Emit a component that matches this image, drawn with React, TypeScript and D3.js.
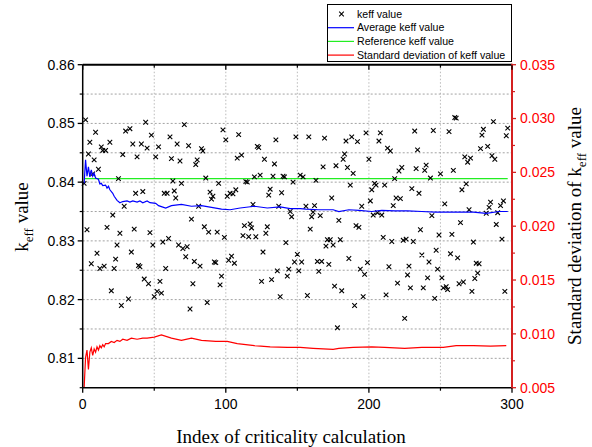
import React from 'react';
import * as d3 from 'd3';

// scatter: index of criticality calculation and keff
const calcIndex = [
  1, 2, 3, 4, 5, 6, 7, 8, 9, 10, 11, 12, 13, 14, 15, 16, 17, 19, 20, 21, 22, 23, 24, 25, 26, 27, 28, 29, 30,
  32, 33, 34, 35, 36, 37, 38, 39, 40, 41, 42, 43, 44, 45, 46, 47, 48, 49, 50, 51, 52, 53, 54, 55, 56, 57,
  58, 59, 60, 61, 62, 63, 64, 65, 66, 67, 68, 69, 70, 71, 72, 73, 74, 75, 76, 77, 78, 79, 80, 81, 82, 83,
  84, 85, 86, 87, 88, 89, 90, 91, 92, 93, 94, 95, 96, 97, 98, 99, 100, 101, 102, 103, 104, 105, 106, 107,
  108, 109, 111, 112, 113, 114, 115, 116, 117, 118, 119, 120, 121, 122, 123, 124, 125, 126, 127, 128, 129,
  130, 131, 132, 133, 134, 135, 136, 137, 138, 139, 140, 141, 142, 143, 144, 145, 146, 147, 148, 149, 150,
  151, 152, 153, 154, 156, 157, 158, 159, 160, 161, 162, 163, 164, 165, 166, 167, 168, 169, 170, 171, 172,
  173, 174, 175, 176, 177, 178, 179, 180, 181, 182, 183, 184, 185, 186, 187, 188, 189, 190, 191, 192, 193,
  194, 195, 196, 197, 198, 199, 200, 201, 202, 203, 204, 205, 206, 207, 208, 209, 210, 211, 212, 213, 214,
  215, 216, 217, 218, 219, 220, 221, 222, 223, 224, 225, 226, 227, 228, 229, 230, 231, 232, 233, 234, 235,
  236, 237, 238, 239, 240, 241, 242, 243, 244, 245, 246, 247, 248, 249, 250, 251, 252, 253, 254, 255, 256,
  257, 258, 259, 260, 261, 262, 263, 264, 265, 266, 267, 268, 269, 270, 271, 272, 273, 274, 275, 276, 277,
  278, 279, 280, 282, 283, 284, 285, 286, 287, 288, 289, 290, 292, 293, 294, 295, 296, 297,
];
const keffValue = [
  0.8398, 0.8506, 0.8319, 0.8448, 0.8468, 0.8261, 0.8414, 0.8438, 0.8485, 0.8279, 0.8422, 0.8253, 0.846,
  0.8454, 0.8257, 0.8454, 0.8323, 0.8468, 0.8215, 0.8344, 0.8253, 0.8269, 0.8293, 0.8406, 0.8313, 0.819,
  0.8447, 0.8359, 0.8487, 0.8201, 0.8491, 0.8281, 0.8465, 0.832, 0.8381, 0.8443, 0.8258, 0.8256, 0.8465,
  0.8384, 0.8235, 0.8502, 0.8458, 0.8227, 0.8314, 0.848, 0.8293, 0.8205, 0.8443, 0.8214, 0.846, 0.8231,
  0.8211, 0.8298, 0.8381, 0.8253, 0.8381, 0.8304, 0.8477, 0.844, 0.8402, 0.8385, 0.8373, 0.8465, 0.8293,
  0.8436, 0.8398, 0.8287, 0.8498, 0.8273, 0.829, 0.8462, 0.8184, 0.8337, 0.8227, 0.8265, 0.843, 0.8438,
  0.8359, 0.8257, 0.8457, 0.8453, 0.8324, 0.8407, 0.8195, 0.8315, 0.8383, 0.8371, 0.8376, 0.8264, 0.8263,
  0.8315, 0.8398, 0.8225, 0.824, 0.8489, 0.8306, 0.8472, 0.8376, 0.8267, 0.8381, 0.8274, 0.838, 0.8262,
  0.8387, 0.8441, 0.8481, 0.8446, 0.8309, 0.8326, 0.8401, 0.84, 0.8307, 0.8329, 0.8322, 0.8362, 0.8409,
  0.8307, 0.8461, 0.8459, 0.8412, 0.8231, 0.8281, 0.8439, 0.8313, 0.8324, 0.8378, 0.8388, 0.8234, 0.841,
  0.8431, 0.8472, 0.8249, 0.8359, 0.8205, 0.8382, 0.841, 0.8409, 0.8297, 0.824, 0.8252, 0.835, 0.8341,
  0.84, 0.8264, 0.8477, 0.8277, 0.8249, 0.8412, 0.8264, 0.8409, 0.8359, 0.8207, 0.8477, 0.832, 0.8341,
  0.8349, 0.836, 0.8403, 0.8265, 0.8248, 0.8343, 0.8265, 0.8426, 0.8475, 0.8291, 0.8302, 0.826, 0.8302,
  0.8373, 0.8293, 0.8223, 0.8428, 0.8152, 0.8335, 0.8302, 0.8215, 0.8439, 0.8448, 0.847, 0.8425, 0.827,
  0.8395, 0.8477, 0.8415, 0.819, 0.8326, 0.8469, 0.8323, 0.8252, 0.8359, 0.8205, 0.8243, 0.8484, 0.8263,
  0.8439, 0.8368, 0.8387, 0.8344, 0.8398, 0.8395, 0.8348, 0.847, 0.8484, 0.8344, 0.8306, 0.8395, 0.8208,
  0.8458, 0.8256, 0.8453, 0.8299, 0.836, 0.8406, 0.8373, 0.8228, 0.8419, 0.8372, 0.8425, 0.8301, 0.8168,
  0.8303, 0.8242, 0.8257, 0.822, 0.8389, 0.8299, 0.8487, 0.8423, 0.8455, 0.8381, 0.8319, 0.8276, 0.822,
  0.842, 0.8429, 0.8237, 0.8264, 0.8407, 0.8343, 0.8488, 0.8202, 0.8284, 0.8252, 0.831, 0.8414, 0.8237,
  0.822, 0.8363, 0.8222, 0.8217, 0.8486, 0.8278, 0.8311, 0.842, 0.851, 0.8509, 0.8271, 0.8227, 0.8331,
  0.8387, 0.823, 0.8443, 0.8397, 0.8434, 0.8353, 0.8441, 0.8214, 0.8298, 0.8236, 0.8262, 0.8245, 0.8261,
  0.8457, 0.848, 0.849, 0.8347, 0.8461, 0.8357, 0.8366, 0.8445, 0.8503, 0.8439, 0.8328, 0.8348, 0.836,
  0.8303, 0.8368, 0.8214, 0.8479, 0.8492,
];

// running average of keff
const avgIndex = [
  1, 2, 3, 4, 5, 6, 7, 8, 9, 11, 12, 13, 14, 16, 17, 18, 19, 21, 22, 24, 26, 28, 31, 33, 35, 38, 40, 42, 45,
  47, 51, 53, 58, 62, 69, 76, 83, 90, 97, 103, 110, 120, 129, 138, 145, 152, 156, 165, 175, 179, 186, 193,
  202, 209, 218, 227, 237, 246, 252, 261, 273, 282, 291, 297,
];
const avgValue = [
  0.8398, 0.8438, 0.841, 0.8426, 0.8409, 0.8421, 0.841, 0.8415, 0.8407, 0.8405, 0.8397, 0.8398, 0.8394,
  0.8395, 0.839, 0.8393, 0.8387, 0.8381, 0.8376, 0.8369, 0.8365, 0.8367, 0.8368, 0.8366, 0.8368, 0.8366,
  0.8368, 0.8365, 0.8368, 0.8365, 0.8364, 0.836, 0.8356, 0.836, 0.8362, 0.8359, 0.836, 0.8357, 0.8354,
  0.8353, 0.8356, 0.8359, 0.8356, 0.8358, 0.8355, 0.8355, 0.8354, 0.8353, 0.8353, 0.835, 0.8353, 0.8352,
  0.835, 0.8352, 0.8351, 0.8351, 0.835, 0.8349, 0.8349, 0.8349, 0.8349, 0.8347, 0.835, 0.835,
];

// reference keff
const refIndex = [1, 297];
const refValue = [0.8406, 0.8406];

// standard deviation (right axis)
const stdIndex = [
  1, 2, 3, 4, 5, 6, 7, 8, 9, 10, 11, 12, 13, 14, 15, 16, 18, 20, 22, 24, 26, 28, 31, 34, 38, 42, 45, 50, 55,
  62, 69, 76, 83, 93, 101, 108, 120, 131, 143, 152, 161, 175, 179, 189, 202, 211, 225, 237, 252, 261, 273,
  285, 296,
];
const stdValue = [
  0.005, 0.0078, 0.0085, 0.0067, 0.0083, 0.0087, 0.008, 0.0086, 0.0083, 0.0088, 0.0085, 0.0089, 0.0087,
  0.009, 0.0088, 0.0091, 0.0091, 0.0093, 0.0092, 0.0094, 0.0093, 0.0095, 0.0094, 0.0096, 0.0095, 0.0096,
  0.0096, 0.0097, 0.0099, 0.0096, 0.0094, 0.0096, 0.0094, 0.0093, 0.0093, 0.0091, 0.0089, 0.0088, 0.00875,
  0.00875, 0.00866, 0.00856, 0.00866, 0.00875, 0.0088, 0.00875, 0.00866, 0.00875, 0.00875, 0.0089, 0.0089,
  0.00887, 0.0089,
];

const xMajor = [0, 100, 200, 300];
const xMinor = [50, 150, 250];
const yMajor = [0.81, 0.82, 0.83, 0.84, 0.85, 0.86];
const yMinor = [0.805, 0.815, 0.825, 0.835, 0.845, 0.855];
const y2Major = [0.005, 0.01, 0.015, 0.02, 0.025, 0.03, 0.035];
const y2Minor = [0.0075, 0.0125, 0.0175, 0.0225, 0.0275, 0.0325];
const xGrid = [50, 100, 150, 200, 250];
const yGrid = [0.81, 0.815, 0.82, 0.825, 0.83, 0.835, 0.84, 0.845, 0.85, 0.855];

const legendItems = ['keff value', 'Average keff value', 'Reference keff value', 'Standard deviation of keff value'];

const W = 592;
const H = 447;
const L = 82.7, R = 512, T = 64.7, B = 387.7;
const sans = 'Arial, "Liberation Sans", sans-serif';
const serif = '"Times New Roman", "Liberation Serif", serif';
const RED = '#ff0000';
const BLUE = '#0000ff';
const GREEN = '#22ee22';

export default function App() {
  const x = d3.scaleLinear().domain([0, 300]).range([L, R]);
  const y = d3.scaleLinear().domain([0.805, 0.86]).range([B, T]);
  const y2 = d3.scaleLinear().domain([0.005, 0.035]).range([B, T]);
  const f2 = d3.format('.2f');
  const f3 = d3.format('.3f');

  const line = (xs: number[], ys: number[], sy: d3.ScaleLinear<number, number>) =>
    d3.line<number>().x(i => x(xs[i])).y(i => sy(ys[i]))(d3.range(xs.length)) || '';

  const cross = 'M-2.3,-2.3L2.3,2.3M-2.3,2.3L2.3,-2.3';

  return (
    <svg width={W} height={H} style={{ position: 'absolute', left: 0, top: 0, background: '#fff' }}>
      {/* grid */}
      {yGrid.map(v => (
        <line key={'gy' + v} x1={L} x2={R} y1={y(v)} y2={y(v)} stroke="#999" strokeWidth={0.9} strokeDasharray="2,2" />
      ))}
      {xGrid.map(v => (
        <line key={'gx' + v} x1={x(v)} x2={x(v)} y1={T} y2={B} stroke="#aaa" strokeWidth={0.8} strokeDasharray="1.5,2" />
      ))}

      {/* series */}
      <path d={line(refIndex, refValue, y)} fill="none" stroke={GREEN} strokeWidth={1.3} />
      {calcIndex.map((c, i) => (
        <path key={'p' + i} d={cross} transform={`translate(${x(c)},${y(keffValue[i])})`} stroke="#000" strokeWidth={1.1} fill="none" />
      ))}
      <path d={line(avgIndex, avgValue, y)} fill="none" stroke={BLUE} strokeWidth={1.2} />
      <path d={line(stdIndex, stdValue, y2)} fill="none" stroke={RED} strokeWidth={1.2} />

      {/* frame */}
      <line x1={L} x2={R} y1={T} y2={T} stroke="#000" strokeWidth={2} />
      <line x1={L} x2={R} y1={B} y2={B} stroke="#000" strokeWidth={1.5} />
      <line x1={L} x2={L} y1={T} y2={B} stroke="#000" strokeWidth={1.5} />
      <line x1={R} x2={R} y1={T - 1} y2={B + 1} stroke="#d42020" strokeWidth={2} />

      {/* left axis */}
      {yMajor.map(v => (
        <g key={'ly' + v}>
          <line x1={L - 5} x2={L} y1={y(v)} y2={y(v)} stroke="#000" strokeWidth={1.3} />
          <text x={L - 8} y={y(v)} dy="0.35em" textAnchor="end" fontFamily={sans} fontSize={14}>{f2(v)}</text>
        </g>
      ))}
      {yMinor.map(v => (
        <line key={'lm' + v} x1={L - 3} x2={L} y1={y(v)} y2={y(v)} stroke="#000" strokeWidth={1.2} />
      ))}

      {/* bottom & top axis */}
      {xMajor.map(v => (
        <g key={'bx' + v}>
          <line x1={x(v)} x2={x(v)} y1={B} y2={B + 5} stroke="#000" strokeWidth={1.3} />
          <line x1={x(v)} x2={x(v)} y1={T} y2={T + 5} stroke="#000" strokeWidth={1.3} />
          <text x={x(v)} y={B + 21} textAnchor="middle" fontFamily={sans} fontSize={14}>{v}</text>
        </g>
      ))}
      {xMinor.map(v => (
        <g key={'bm' + v}>
          <line x1={x(v)} x2={x(v)} y1={B} y2={B + 3} stroke="#000" strokeWidth={1.2} />
          <line x1={x(v)} x2={x(v)} y1={T} y2={T + 3} stroke="#000" strokeWidth={1.2} />
        </g>
      ))}

      {/* right axis */}
      {y2Major.map(v => (
        <g key={'ry' + v}>
          <line x1={R} x2={R + 4} y1={y2(v)} y2={y2(v)} stroke="#d42020" strokeWidth={1.3} />
          <text x={R + 8} y={y2(v)} dy="0.35em" textAnchor="start" fontFamily={sans} fontSize={14} fill={RED}>{f3(v)}</text>
        </g>
      ))}
      {y2Minor.map(v => (
        <line key={'rm' + v} x1={R} x2={R + 3} y1={y2(v)} y2={y2(v)} stroke="#d42020" strokeWidth={1.2} />
      ))}

      {/* axis titles */}
      <text x={291} y={443} textAnchor="middle" fontFamily={serif} fontSize={19}>Index of criticality calculation</text>
      <text transform={`translate(28,217) rotate(-90)`} textAnchor="middle" fontFamily={serif} fontSize={19}>
        k<tspan fontSize={13} dy={5}>eff</tspan><tspan dy={-5}> value</tspan>
      </text>
      <text transform={`translate(581,226) rotate(-90)`} textAnchor="middle" fontFamily={serif} fontSize={19}>
        Standard deviation of k<tspan fontSize={13} dy={5}>eff</tspan><tspan dy={-5}> value</tspan>
      </text>

      {/* legend */}
      <rect x={327.5} y={4.5} width={184} height={57} fill="#fff" stroke="#000" strokeWidth={1} />
      {legendItems.map((t, i) => {
        const cy = 14 + i * 13.7;
        return (
          <g key={t}>
            {i === 0 ? (
              <path d={cross} transform={`translate(341.5,${cy})`} stroke="#000" strokeWidth={1.1} />
            ) : (
              <line x1={328} x2={354} y1={cy} y2={cy} stroke={[BLUE, GREEN, RED][i - 1]} strokeWidth={1.2} />
            )}
            <text x={357} y={cy} dy="0.35em" fontFamily={sans} fontSize={10.6}>{t}</text>
          </g>
        );
      })}
    </svg>
  );
}
